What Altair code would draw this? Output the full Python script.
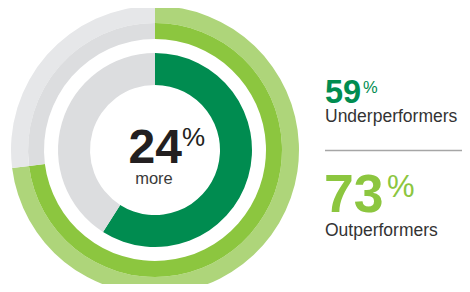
import altair as alt
import pandas as pd

# --- data ---
groups = ["Underperformers", "Outperformers"]
shares = [59, 73]          # percent
more_pct = 24              # "24% more"

under, outer = shares[0], shares[1]

ring_outer = pd.DataFrame({"part": ["o_fill", "o_rest"], "value": [outer, 100 - outer], "idx": [0, 1]})
ring_mid = pd.DataFrame({"part": ["m_fill", "m_rest"], "value": [outer, 100 - outer], "idx": [0, 1]})
ring_inner = pd.DataFrame({"part": ["i_fill", "i_rest"], "value": [under, 100 - under], "idx": [0, 1]})

color_scale = alt.Scale(
    domain=["o_fill", "o_rest", "m_fill", "m_rest", "i_fill", "i_rest"],
    range=["#AED57A", "#E6E7E9", "#8CC63F", "#DCDDDF", "#008C50", "#DCDDDF"],
)

CX, CY = 147, 142
FONT = "Liberation Sans"


def ring(df, r_out, r_in):
    return alt.Chart(df).mark_arc(radius=r_out, radius2=r_in, stroke=None).encode(
        theta=alt.Theta("value:Q", stack=True, scale=alt.Scale(domain=[0, 100])),
        order=alt.Order("idx:O"),
        color=alt.Color("part:N", scale=color_scale, legend=None),
        x=alt.value(CX),
        y=alt.value(CY),
    )


def label(text, x, y, size, color, weight="normal", align="left"):
    return alt.Chart(pd.DataFrame({"t": [text]})).mark_text(
        font=FONT, fontSize=size, fontWeight=weight, color=color,
        align=align, baseline="alphabetic",
    ).encode(text="t:N", x=alt.value(x), y=alt.value(y))


layers = [
    ring(ring_outer, 144, 127),
    ring(ring_mid, 127, 111),
    ring(ring_inner, 97, 65),
    label(str(more_pct), 174, 155, 48, "#231F20", "bold", "right"),
    label("%", 174, 138, 26, "#231F20"),
    label("more", 146, 176, 16.5, "#3A3A3A", align="center"),
    label(str(under), 317, 95, 32.5, "#008C50", "bold"),
    label("%", 355, 85, 16.5, "#008C50"),
    label(groups[0], 317, 114, 17.5, "#333333"),
    alt.Chart(pd.DataFrame({"a": [0]})).mark_rule(color="#A6A6A6", strokeWidth=1.5).encode(
        x=alt.value(317), x2=alt.value(454), y=alt.value(142.5)
    ),
    label(str(outer), 316, 204, 53.5, "#8CC63F", "bold"),
    label("%", 379, 189, 31, "#8CC63F"),
    label(groups[1], 317, 228, 17.5, "#333333"),
]

chart = alt.layer(*layers).properties(
    width=454, height=276,
    autosize=alt.AutoSizeParams(type="none"),
    padding=0,
).configure_view(stroke=None)

chart.save("out.html", embed_options={"renderer": "svg", "actions": False})
